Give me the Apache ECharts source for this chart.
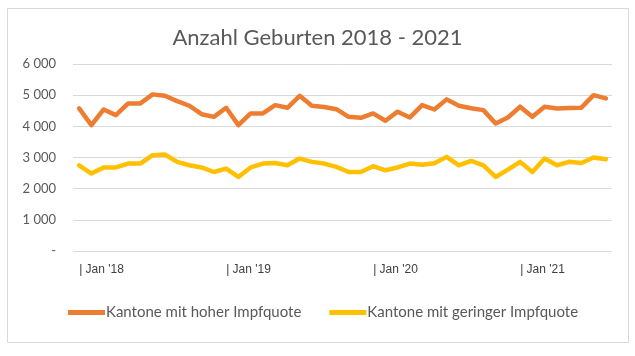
<!DOCTYPE html>
<html>
<head>
<meta charset="utf-8">
<script src="https://cdn.jsdelivr.net/npm/echarts@6/dist/echarts.min.js"></script>
<style>
html,body{margin:0;padding:0;background:#fff;}
#chart{width:635px;height:356px;}
</style>
</head>
<body>
<div id="chart"></div>
<script>
const titleText = "Anzahl Geburten 2018 - 2021";
const seriesNames = ["Kantone mit hoher Impfquote", "Kantone mit geringer Impfquote"];
const years = ["18", "19", "20", "21"];
const monthNames = ["Jan","Feb","Mär","Apr","Mai","Jun","Jul","Aug","Sep","Okt","Nov","Dez"];
const lastYearMonths = 8;
const categories = [];
years.forEach((y, yi) => {
  const n = yi === years.length - 1 ? lastYearMonths : 12;
  for (let m = 0; m < n; m++) categories.push(monthNames[m] + " '" + y);
});
const hoherImpfquote = [
  4575,4040,4540,4360,4735,4735,5025,4980,4810,4660,4390,4305,
  4595,4040,4415,4415,4680,4595,4980,4660,4620,4550,4305,4275,
  4415,4180,4470,4285,4680,4540,4865,4660,4580,4520,4090,4285,
  4630,4305,4630,4575,4590,4600,5000,4895
];
const geringerImpfquote = [
  2750,2485,2680,2680,2805,2805,3075,3095,2860,2750,2680,2535,
  2645,2375,2680,2805,2825,2750,2965,2860,2805,2700,2535,2535,
  2720,2590,2680,2805,2770,2815,3020,2750,2890,2750,2375,2610,
  2860,2535,2965,2750,2860,2825,3000,2945
];
const yMin = 0, yMax = 6000, yStep = 1000;

const chart = echarts.init(document.getElementById('chart'), null, {renderer: 'canvas'});
const fmtY = v => v === 0 ? '-' : String(v).replace(/\B(?=(\d{3})+(?!\d))/g, ' ');
chart.setOption({
  backgroundColor: '#ffffff',
  animation: false,
  graphic: [{
    type: 'rect', left: 5, top: 6, z: -1,
    shape: {width: 621, height: 334},
    style: {fill: 'none', stroke: '#D9D9D9', lineWidth: 1}
  }],
  title: {
    text: titleText, left: 'center', top: 22,
    textStyle: {fontFamily: 'Lato, "Open Sans", sans-serif', fontSize: 22, fontWeight: 'normal', color: '#595959'}
  },
  grid: {left: 73, right: 23, top: 64, bottom: 105, containLabel: false},
  legend: {
    data: seriesNames, bottom: 31, left: 63, itemGap: 28,
    icon: 'rect', itemWidth: 37, itemHeight: 5,
    textStyle: {fontFamily: 'Lato, "Open Sans", sans-serif', fontSize: 15, color: '#595959', padding: [0, 0, 0, -4]}
  },
  xAxis: {
    type: 'category', data: categories, boundaryGap: true,
    axisLine: {show: false}, axisTick: {show: false},
    axisLabel: {
      interval: (i) => i % 12 === 0,
      formatter: (v) => '| ' + v.replace(/^\S+/, 'Jan'),
      align: 'left', margin: 13,
      fontFamily: '"Liberation Sans Narrow", "Liberation Sans", sans-serif',
      fontSize: 12, color: '#404040'
    }
  },
  yAxis: {
    type: 'value', min: yMin, max: yMax, interval: yStep,
    axisLine: {show: false}, axisTick: {show: false},
    splitLine: {lineStyle: {color: '#D9D9D9', width: 1}},
    axisLabel: {
      formatter: fmtY, margin: 17,
      fontFamily: 'Lato, "Open Sans", sans-serif', fontSize: 13, color: '#595959'
    }
  },
  series: [
    {name: seriesNames[0], type: 'line', data: hoherImpfquote, symbol: 'none',
     itemStyle: {color: '#ED7D31'}, lineStyle: {color: '#ED7D31', width: 4.5, join: 'round', cap: 'round'}},
    {name: seriesNames[1], type: 'line', data: geringerImpfquote, symbol: 'none',
     itemStyle: {color: '#FFC000'}, lineStyle: {color: '#FFC000', width: 4.5, join: 'round', cap: 'round'}}
  ]
});
</script>
</body>
</html>
